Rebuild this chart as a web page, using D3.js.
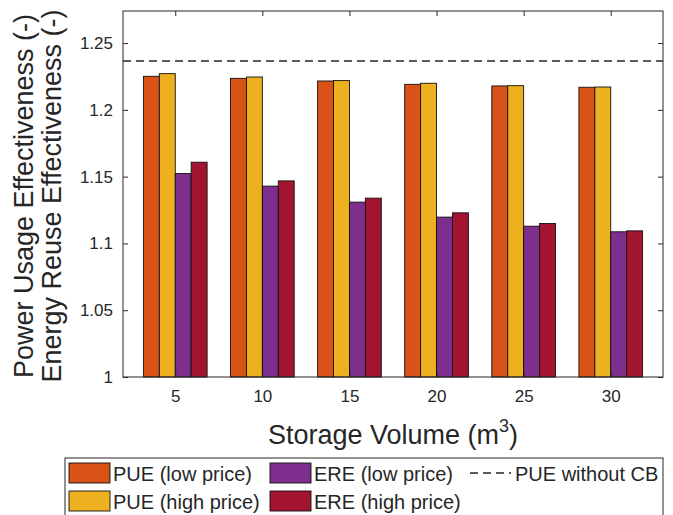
<!DOCTYPE html>
<html>
<head>
<meta charset="utf-8">
<script src="https://cdn.jsdelivr.net/npm/d3@7"></script>
<style>
body { margin: 0; background: #fff; }
text { font-family: "Liberation Sans", Arial, sans-serif; fill: #262626; }
</style>
</head>
<body>
<script>
var volumes = [5, 10, 15, 20, 25, 30];
var pueLow = [1.2251, 1.2236, 1.2216, 1.2191, 1.2179, 1.2169];
var pueHigh = [1.2271, 1.2246, 1.2219, 1.2199, 1.2181, 1.2171];
var ereLow = [1.1523, 1.1429, 1.1309, 1.1197, 1.1129, 1.1087];
var ereHigh = [1.1608, 1.1468, 1.1339, 1.1229, 1.1149, 1.1094];
var pueWithoutCB = 1.2366;
var yTicks = [1, 1.05, 1.1, 1.15, 1.2, 1.25];
var seriesNames = ["PUE (low price)", "PUE (high price)", "ERE (low price)", "ERE (high price)"];
var seriesColors = ["#D95319", "#EDB120", "#7E2F8E", "#A2142F"];

drawChart();

function drawChart() {
    var width = 673, height = 515;
    var left = 123, right = 663, top = 11, bottom = 377;
    var svg = d3.select("body").append("svg")
        .attr("width", width)
        .attr("height", height);

    var x = d3.scaleLinear().domain([2, 33]).range([left, right]);
    var y = d3.scaleLinear().domain([1, 1.274]).range([bottom, top]);

    // grouped bars, 4 per volume
    var barWidth = 0.914;
    var allSeries = [pueLow, pueHigh, ereLow, ereHigh];
    allSeries.forEach(function (values, s) {
        svg.append("g").selectAll("rect")
            .data(values)
            .enter().append("rect")
            .attr("x", (d, i) => x(volumes[i] + (s - 2) * barWidth))
            .attr("width", x(barWidth) - x(0))
            .attr("y", d => y(d))
            .attr("height", d => y(1) - y(d))
            .attr("fill", seriesColors[s])
            .attr("stroke", "#111")
            .attr("stroke-width", 0.9);
    });

    // reference line
    svg.append("line")
        .attr("x1", x(2)).attr("x2", x(33))
        .attr("y1", y(pueWithoutCB)).attr("y2", y(pueWithoutCB))
        .attr("stroke", "#262626")
        .attr("stroke-width", 1.4)
        .attr("stroke-dasharray", "8,5");

    // axes, ticks point inward on all sides
    svg.append("g")
        .attr("transform", "translate(0," + bottom + ")")
        .call(d3.axisBottom(x).tickValues(volumes).tickSizeInner(-5).tickSizeOuter(0).tickPadding(13));
    svg.append("g")
        .attr("transform", "translate(0," + top + ")")
        .call(d3.axisTop(x).tickValues(volumes).tickSizeInner(-5).tickSizeOuter(0).tickFormat(""));
    svg.append("g")
        .attr("transform", "translate(" + left + ",0)")
        .call(d3.axisLeft(y).tickValues(yTicks).tickSizeInner(-5).tickSizeOuter(0).tickPadding(10).tickFormat(d3.format("")));
    svg.append("g")
        .attr("transform", "translate(" + right + ",0)")
        .call(d3.axisRight(y).tickValues(yTicks).tickSizeInner(-5).tickSizeOuter(0).tickFormat(""));
    svg.selectAll(".domain").remove();
    svg.selectAll(".tick line").attr("stroke", "#262626");
    svg.selectAll(".tick text").attr("font-size", 17).attr("font-family", null).style("fill", "#262626");

    svg.append("rect")
        .attr("x", left).attr("y", top)
        .attr("width", right - left).attr("height", bottom - top)
        .attr("fill", "none")
        .attr("stroke", "#262626")
        .attr("stroke-width", 1);

    // axis titles
    var xLabel = svg.append("text")
        .attr("x", (left + right) / 2)
        .attr("y", 444)
        .attr("text-anchor", "middle")
        .attr("font-size", 27);
    xLabel.append("tspan").text("Storage Volume (m");
    xLabel.append("tspan").attr("dy", -12).attr("font-size", 18).text("3");
    xLabel.append("tspan").attr("dy", 12).text(")");

    var yLabelCenter = (top + bottom) / 2 + 2;
    svg.append("text")
        .attr("transform", "translate(33," + yLabelCenter + ") rotate(-90)")
        .attr("text-anchor", "middle")
        .attr("font-size", 27)
        .text("Power Usage Effectiveness (-)");
    svg.append("text")
        .attr("transform", "translate(61," + yLabelCenter + ") rotate(-90)")
        .attr("text-anchor", "middle")
        .attr("font-size", 27)
        .text("Energy Reuse Effectiveness (-)");

    // legend
    var legend = svg.append("g");
    legend.append("rect")
        .attr("x", 65).attr("y", 458)
        .attr("width", 598).attr("height", 70)
        .attr("fill", "#fff")
        .attr("stroke", "#262626")
        .attr("stroke-width", 1);
    var columnX = [69, 69, 270, 270];
    var rowY = [463, 491, 463, 491];
    seriesNames.forEach(function (name, s) {
        legend.append("rect")
            .attr("x", columnX[s]).attr("y", rowY[s])
            .attr("width", 41).attr("height", 20)
            .attr("fill", seriesColors[s])
            .attr("stroke", "#111")
            .attr("stroke-width", 0.9);
        legend.append("text")
            .attr("x", columnX[s] + 44)
            .attr("y", rowY[s] + 18)
            .attr("font-size", 20)
            .text(name);
    });
    legend.append("line")
        .attr("x1", 470).attr("x2", 511)
        .attr("y1", 473).attr("y2", 473)
        .attr("stroke", "#262626")
        .attr("stroke-width", 1.4)
        .attr("stroke-dasharray", "8,5");
    legend.append("text")
        .attr("x", 515)
        .attr("y", 481)
        .attr("font-size", 20)
        .text("PUE without CB");
}
</script>
</body>
</html>
